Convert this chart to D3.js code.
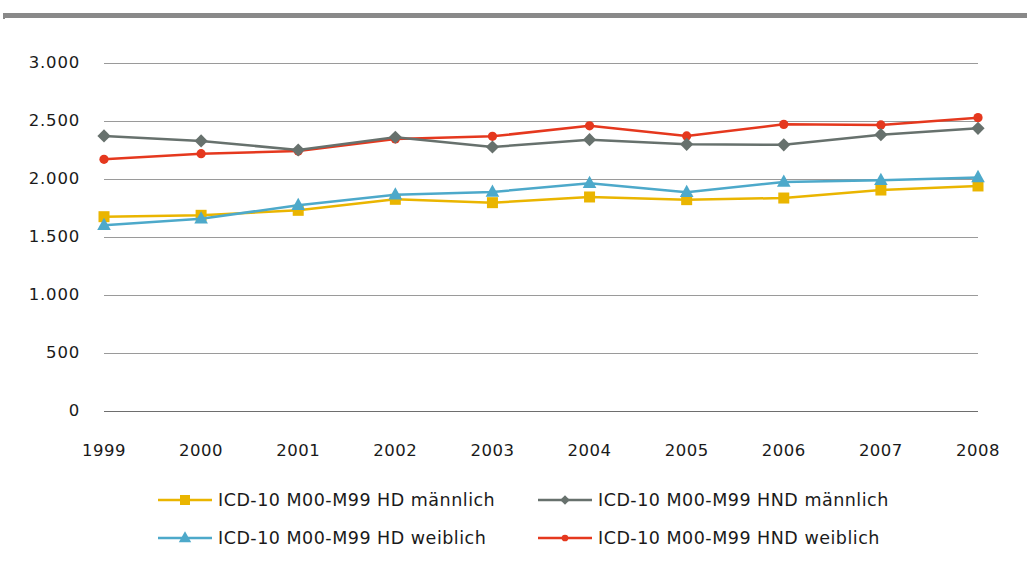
<!DOCTYPE html>
<html>
<head>
<meta charset="utf-8">
<script src="https://cdn.jsdelivr.net/npm/d3@7"></script>
<style>
  html, body { margin: 0; padding: 0; background: #fff; }
  svg { display: block; }
  text { font-family: "DejaVu Sans", sans-serif; fill: #1a1a1a; }
</style>
</head>
<body>
<svg id="chart" width="1027" height="571"></svg>
<script>
// Jahre (x-Achse)
const years = ["1999","2000","2001","2002","2003","2004","2005","2006","2007","2008"];

// Fallzahlen je Reihe
const hdMaennlich  = [1675, 1687, 1730, 1825, 1796, 1845, 1822, 1836, 1905, 1940];
const hndMaennlich = [2371, 2328, 2250, 2360, 2276, 2339, 2299, 2295, 2382, 2437];
const hdWeiblich   = [1601, 1658, 1773, 1865, 1888, 1963, 1886, 1974, 1989, 2014];
const hndWeiblich  = [2170, 2218, 2241, 2345, 2368, 2459, 2371, 2471, 2466, 2529];

const yTicks = [0, 500, 1000, 1500, 2000, 2500, 3000];

const seriesNames = [
  "ICD-10 M00-M99 HD männlich",
  "ICD-10 M00-M99 HND männlich",
  "ICD-10 M00-M99 HD weiblich",
  "ICD-10 M00-M99 HND weiblich"
];

const series = [
  { name: seriesNames[0], values: hdMaennlich,  color: "#EAB500", marker: "square" },
  { name: seriesNames[1], values: hndMaennlich, color: "#67716D", marker: "diamond" },
  { name: seriesNames[2], values: hdWeiblich,   color: "#4DA9CA", marker: "triangle" },
  { name: seriesNames[3], values: hndWeiblich,  color: "#E5381E", marker: "circle" }
];

const svg = d3.select("#chart");

// Balken oben
svg.append("rect").attr("x", 3).attr("y", 13).attr("width", 1024).attr("height", 5).attr("fill", "#898989");
svg.append("rect").attr("x", 3).attr("y", 13).attr("width", 2).attr("height", 6).attr("fill", "#898989");

const x = d3.scalePoint().domain(years).range([104, 978]);
const y = d3.scaleLinear().domain([0, 3000]).range([411, 63]);

// Gitterlinien
svg.append("g")
  .selectAll("line")
  .data(yTicks)
  .join("line")
  .attr("x1", 104).attr("x2", 978)
  .attr("y1", d => y(d)).attr("y2", d => y(d))
  .attr("stroke", d => d === 0 ? "#6e6e6e" : "#9a9a9a")
  .attr("stroke-width", 1)
  .attr("shape-rendering", "crispEdges");

// y-Achsenbeschriftung
const fmt = d => d3.format(",")(d).replace(/,/g, ".");
svg.append("g")
  .selectAll("text")
  .data(yTicks)
  .join("text")
  .attr("x", 80)
  .attr("y", d => y(d) + 4.5)
  .attr("text-anchor", "end")
  .attr("font-size", 16.5)
  .attr("letter-spacing", 0.8)
  .text(fmt);

// x-Achsenbeschriftung
svg.append("g")
  .selectAll("text")
  .data(years)
  .join("text")
  .attr("x", d => x(d))
  .attr("y", 456)
  .attr("text-anchor", "middle")
  .attr("font-size", 16.5)
  .attr("letter-spacing", 0.5)
  .text(d => d);

function drawMarker(g, type, color, size) {
  if (type === "square") {
    g.append("rect").attr("x", -size / 2).attr("y", -size / 2)
      .attr("width", size).attr("height", size).attr("fill", color);
  } else if (type === "diamond") {
    const s = size * 0.6;
    g.append("path").attr("d", `M0,${-s}L${s},0L0,${s}L${-s},0Z`).attr("fill", color);
  } else if (type === "triangle") {
    const s = size * 0.62;
    g.append("path").attr("d", `M0,${-s * 1.1}L${s},${s * 0.7}L${-s},${s * 0.7}Z`).attr("fill", color);
  } else {
    g.append("circle").attr("r", size * 0.42).attr("fill", color);
  }
}

const line = d3.line().x((d, i) => x(years[i])).y(d => y(d));

// Linien, Reihenfolge: HND weiblich zuerst unten
const order = [3, 1, 0, 2];
order.forEach(k => {
  const s = series[k];
  const g = svg.append("g");
  g.append("path")
    .attr("d", line(s.values))
    .attr("fill", "none")
    .attr("stroke", s.color)
    .attr("stroke-width", 2.5)
    .attr("stroke-linejoin", "round");
  g.selectAll("g.mk")
    .data(s.values)
    .join("g")
    .attr("class", "mk")
    .attr("transform", (d, i) => `translate(${x(years[i])},${y(d)})`)
    .each(function() { drawMarker(d3.select(this), s.marker, s.color, 11); });
});

// Legende
const legendPos = [
  { lx: 158, cy: 500 },
  { lx: 538, cy: 500 },
  { lx: 158, cy: 538 },
  { lx: 538, cy: 538 }
];
series.forEach((s, k) => {
  const p = legendPos[k];
  const g = svg.append("g");
  g.append("line")
    .attr("x1", p.lx).attr("x2", p.lx + 54)
    .attr("y1", p.cy).attr("y2", p.cy)
    .attr("stroke", s.color).attr("stroke-width", 2.5);
  const m = g.append("g").attr("transform", `translate(${p.lx + 27},${p.cy})`);
  drawMarker(m, s.marker, s.color, s.marker === "square" ? 10 : (s.marker === "triangle" ? 10 : 8));
  g.append("text")
    .attr("x", p.lx + 60)
    .attr("y", p.cy + 5.8)
    .attr("font-size", 17.5)
    .attr("letter-spacing", 0.5)
    .text(s.name);
});
</script>
</body>
</html>
